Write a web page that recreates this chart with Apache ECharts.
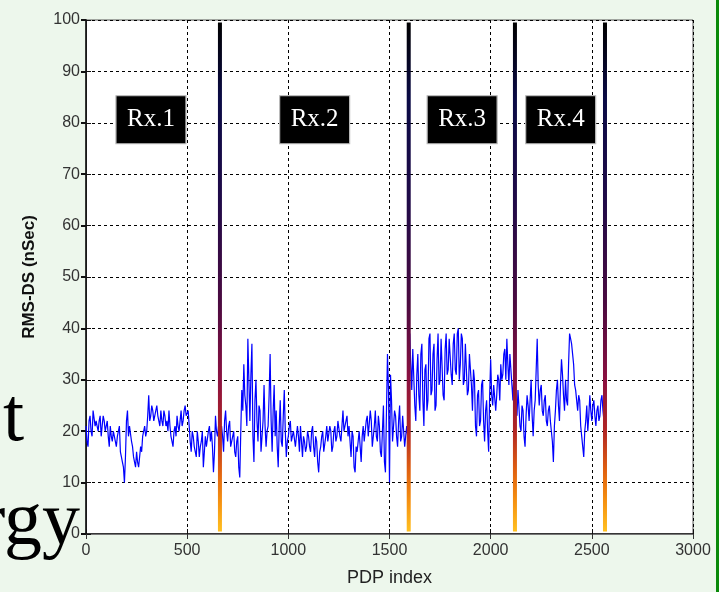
<!DOCTYPE html>
<html><head><meta charset="utf-8">
<script src="https://cdn.jsdelivr.net/npm/echarts@6/dist/echarts.min.js"></script>
<style>html,body{margin:0;padding:0;background:#edf7ec;} #c{width:719px;height:592px;}</style>
</head><body><div id="c"></div>
<script>
// PDP index step between samples
const pdpStep = 5;
// RMS delay spread (nSec) sampled every 5 PDP indices, 0..2560
const rmsValues = [
 21,18,17,22,23,20,19,24,24,21,22,21,20,22,23,19,21,23,22,20,
 20,22,19,17,21,19,18,20,20,18,17,19,19,21,16,15,14,13,10,15,
 22,24,19,21,21,18,17,15,14,13,16,14,13,15,17,16,19,20,21,19,
 20,23,27,22,23,25,24,22,22,24,25,23,23,21,24,22,21,24,23,21,
 22,20,24,21,19,18,17,20,21,19,23,21,20,22,24,21,22,24,25,23,
 23,24,21,18,16,20,19,17,17,15,20,18,15,17,18,20,13,16,19,17,
 17,20,21,18,20,17,12,16,23,20,19,21,22,18,21,19,16,22,24,20,
 18,21,22,17,17,19,20,16,15,18,19,13,11,20,28,24,33,27,25,21,
 38,30,22,31,37,19,14,26,30,22,18,25,24,16,19,22,29,21,17,20,
 21,27,35,22,16,24,29,19,24,17,13,21,26,18,17,23,28,20,15,18,
 19,21,22,18,18,20,20,17,17,21,19,16,21,18,15,19,18,16,17,20,
 19,17,16,20,21,17,15,19,18,14,12,16,17,19,20,16,16,19,21,18,
 18,21,20,16,17,20,21,18,19,22,22,19,18,21,24,20,20,22,23,19,
 21,18,15,20,19,13,12,17,16,18,20,17,14,19,21,18,18,22,23,19,
 19,24,22,17,17,21,24,19,18,23,21,16,15,20,25,14,12,24,35,28,
 10,31,26,18,18,24,23,19,17,22,25,18,19,23,20,17,17,21,19,20,
 39,33,28,36,36,25,22,31,35,27,24,35,37,26,21,32,33,24,26,38,
 39,27,28,35,37,24,25,34,39,29,30,38,38,27,26,36,39,31,32,38,
 38,31,29,37,39,32,31,39,40,30,33,39,38,29,30,37,37,27,28,35,
 35,29,24,32,30,21,19,27,28,21,22,29,30,22,18,24,26,20,16,27,
 34,27,25,29,29,24,27,31,30,26,33,30,31,35,36,30,38,33,29,35,
 35,29,26,32,31,24,23,28,28,21,20,25,24,19,17,23,27,25,22,26,
 30,23,19,24,26,32,38,29,25,28,29,24,23,26,27,22,21,24,25,22,
 20,18,14,21,24,28,30,25,22,29,34,31,27,24,30,26,25,33,39,38,
 37,35,33,29,28,26,24,27,26,21,19,17,15,20,22,25,20,23,27,24,
 22,25,26,23,21,24,25,22,23,26,27,24,22
];
// receiver boundaries (PDP index)
const dividerX = [662, 1595, 2120, 2565];
const dividerRange = [0.5, 99.5];
// receiver labels
const labelNames = ['Rx.1', 'Rx.2', 'Rx.3', 'Rx.4'];
const labelX = [321, 1130, 1859, 2346];
const labelY = 80.6;
// axes
const xRange = [0, 3000], xInterval = 500;
const yRange = [0, 100], yInterval = 10;

const lineData = rmsValues.map((v, i) => [i * pdpStep, v]);
const chart = echarts.init(document.getElementById('c'), null, {renderer: 'canvas'});
const gridStyle = {show: true, lineStyle: {color: '#000', type: [3, 3], width: 1}};
const font = 'Liberation Sans, Arial, sans-serif';
chart.setOption({
  animation: false,
  backgroundColor: '#edf7ec',
  grid: {left: 86, right: 26, top: 20, bottom: 51, show: true, backgroundColor: '#fff', borderColor: '#555', borderWidth: 1},
  graphic: [
    {type: 'text', x: 24, y: 458, z: -1, style: {text: 't', font: '76px "Liberation Serif", serif', fill: '#000', textAlign: 'right', textVerticalAlign: 'bottom'}},
    {type: 'text', x: 80, y: 562, z: -1, style: {text: 'rgy', font: '76px "Liberation Serif", serif', fill: '#000', textAlign: 'right', textVerticalAlign: 'bottom'}},
    {type: 'rect', shape: {x: 716, y: 0, width: 3, height: 592}, style: {fill: '#0a8a0a'}}
  ],
  xAxis: [{
    type: 'value', min: xRange[0], max: xRange[1], interval: xInterval,
    name: 'PDP index', nameLocation: 'middle', nameGap: 35,
    nameTextStyle: {fontFamily: font, fontSize: 18, color: '#222'},
    axisLine: {show: true, lineStyle: {color: '#111', width: 1.5}},
    axisTick: {show: true, inside: true, length: 5, lineStyle: {color: '#111'}},
    axisLabel: {fontFamily: font, fontSize: 16, color: '#333', margin: 9, formatter: v => String(v)},
    splitLine: gridStyle
  }, {
    type: 'value', position: 'top', min: xRange[0], max: xRange[1], interval: xInterval,
    axisLine: {show: true, lineStyle: {color: '#777', width: 1}},
    axisTick: {show: true, inside: true, length: 5, lineStyle: {color: '#333'}},
    axisLabel: {show: false}, splitLine: {show: false}
  }],
  yAxis: [{
    type: 'value', min: yRange[0], max: yRange[1], interval: yInterval,
    name: 'RMS-DS (nSec)', nameLocation: 'middle', nameGap: 48, nameRotate: 90,
    nameTextStyle: {fontFamily: font, fontSize: 17, fontWeight: 'bold', color: '#111'},
    axisLine: {show: true, lineStyle: {color: '#333', width: 1}},
    axisTick: {show: true, inside: true, length: 5, lineStyle: {color: '#111'}},
    axisLabel: {fontFamily: font, fontSize: 16, color: '#333', margin: 6},
    splitLine: gridStyle
  }, {
    type: 'value', position: 'right', min: yRange[0], max: yRange[1], interval: yInterval,
    axisLine: {show: true, lineStyle: {color: '#111', width: 1.5}},
    axisTick: {show: true, inside: true, length: 5, lineStyle: {color: '#111', width: 2}},
    axisLabel: {show: false}, splitLine: {show: false}
  }],
  series: [{
    type: 'line', data: lineData, showSymbol: false, symbol: 'none',
    lineStyle: {color: '#0000ff', width: 1.2}, z: 3
  }, {
    type: 'custom', z: 5,
    encode: {x: 0, y: [1, 2]},
    data: dividerX.map(x => [x, dividerRange[0], dividerRange[1]]),
    renderItem(params, api) {
      const top = api.coord([api.value(0), api.value(2)]);
      const bot = api.coord([api.value(0), api.value(1)]);
      return {
        type: 'rect',
        shape: {x: top[0] - 2, y: top[1], width: 4, height: bot[1] - top[1]},
        style: {fill: new echarts.graphic.LinearGradient(0, 0, 0, 1, [
          {offset: 0, color: '#000000'},
          {offset: 0.15, color: '#0a0a45'},
          {offset: 0.35, color: '#200a48'},
          {offset: 0.55, color: '#4a0a40'},
          {offset: 0.7, color: '#8a1040'},
          {offset: 0.8, color: '#b02525'},
          {offset: 0.88, color: '#e06010'},
          {offset: 0.94, color: '#f59010'},
          {offset: 1, color: '#ffc020'}
        ])}
      };
    }
  }, {
    type: 'scatter', z: 6,
    data: labelNames.map((n, i) => ({name: n, value: [labelX[i], labelY]})),
    symbol: 'rect', symbolSize: [70, 48],
    itemStyle: {color: '#000', borderColor: '#bbb', borderWidth: 1, opacity: 1},
    label: {show: true, position: 'inside', formatter: p => p.name, color: '#fff',
      fontFamily: '"Liberation Serif", "Times New Roman", serif', fontSize: 25},
    emphasis: {disabled: true}
  }]
});
</script></body></html>
